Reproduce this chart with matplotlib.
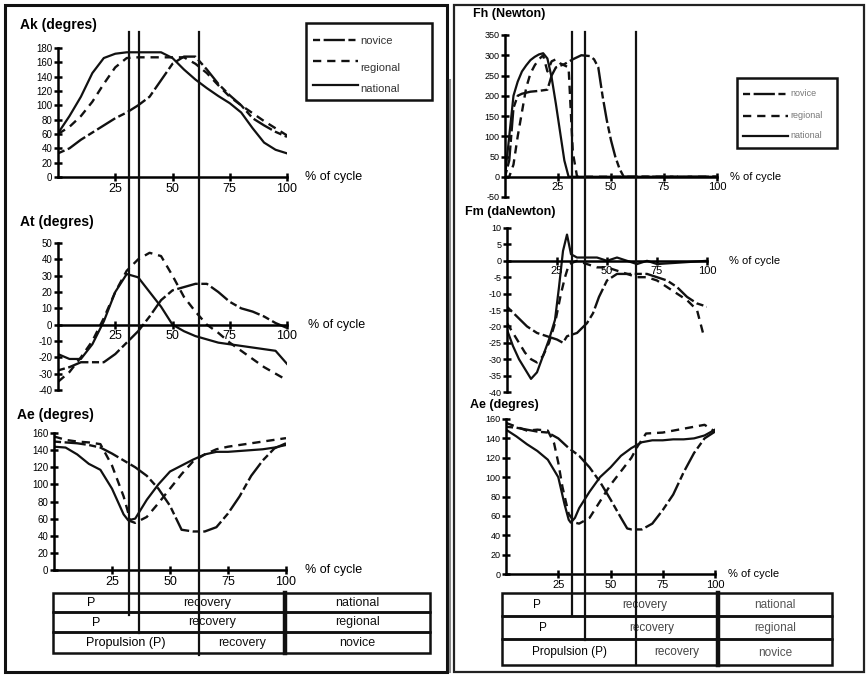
import matplotlib
matplotlib.use('Agg')
import matplotlib.pyplot as plt
from matplotlib.lines import Line2D
from matplotlib.patches import Rectangle
from matplotlib.transforms import blended_transform_factory

plt.rcParams['font.family'] = ['Liberation Sans', 'DejaVu Sans']
plt.rcParams['axes.unicode_minus'] = False

# ---------------- DATA ----------------
X5 = [0, 5, 10, 15, 20, 25, 30, 35, 40, 45, 50, 55, 60, 65, 70, 75, 80, 85, 90, 95, 100]

# Ak (degres) - left top
AK_NAT = [61, 85, 112, 145, 166, 172, 174, 174, 174, 174, 166, 150, 136, 124, 113, 103, 90, 68, 48, 38, 33]
AK_REG = [60, 70, 85, 105, 130, 153, 166, 167, 167, 167, 167, 167, 158, 145, 128, 112, 100, 89, 78, 68, 58]
AK_NOV = [33, 40, 52, 62, 72, 82, 90, 100, 112, 135, 158, 168, 168, 150, 130, 114, 100, 82, 72, 63, 56]

# At (degres) - left middle
AT_NAT = [-18, -21, -21, -12, 2, 20, 31, 29, 20, 11, 0, -4, -7, -9, -11, -12, -13, -14, -15, -16, -24]
AT_REG = [-35, -29, -20, -10, 4, 20, 33, 40, 44, 42, 30, 17, 8, 0, -5, -11, -16, -21, -26, -30, -34]
AT_NOV = [-28, -26, -23, -23, -23, -18, -11, -4, 5, 15, 21, 23, 25, 25, 20, 14, 10, 8, 5, 1, -2]

# Ae (degres) - left bottom
AEL_NAT_X = [0, 5, 10, 15, 20, 25, 30, 32, 35, 40, 45, 50, 55, 60, 65, 70, 75, 80, 85, 90, 95, 100]
AEL_NAT = [144, 143, 135, 124, 117, 95, 65, 58, 60, 82, 100, 115, 122, 129, 135, 138, 138, 139, 140, 141, 143, 146]
AEL_REG_X = [0, 5, 10, 15, 20, 25, 30, 33, 35, 40, 45, 50, 55, 60, 65, 70, 75, 80, 85, 90, 95, 100]
AEL_REG = [156, 152, 150, 149, 147, 122, 86, 57, 55, 62, 78, 95, 112, 127, 135, 141, 144, 146, 148, 150, 152, 154]
AEL_NOV = [150, 149, 148, 146, 143, 136, 128, 120, 110, 95, 75, 47, 45, 45, 50, 66, 86, 110, 128, 142, 148]

# Fh (Newton) - right top
FH_NAT_X = [0, 2, 4, 6, 8, 10, 12, 14, 16, 18, 20, 22, 24, 26, 28, 30, 100]
FH_NAT = [0, 100, 200, 235, 260, 275, 288, 296, 302, 305, 292, 245, 180, 110, 40, 0, 0]
FH_REG_X = [0, 2, 4, 6, 8, 10, 12, 14, 16, 18, 20, 22, 24, 26, 28, 30, 32, 34, 100]
FH_REG = [0, 0, 30, 100, 160, 220, 255, 275, 290, 300, 260, 285, 290, 280, 275, 270, 60, 0, 0]
FH_NOV_X = [0, 2, 4, 6, 8, 12, 16, 20, 22, 24, 28, 32, 36, 40, 42, 44, 46, 48, 50, 52, 54, 56, 100]
FH_NOV = [0, 40, 170, 200, 205, 210, 212, 215, 250, 270, 278, 290, 300, 298, 290, 270, 200, 140, 90, 50, 20, 0, 0]

# Fm (daNewton) - right middle
FM_NAT_X = [0, 3, 6, 9, 12, 15, 18, 21, 24, 26, 28, 30, 32, 35, 40, 45, 50, 55, 60, 65, 70, 75, 100]
FM_NAT = [-21, -26, -30, -33, -36, -34, -29, -24, -18, -8, 3, 8, 2, 1, 1, 1, 0, 1, 0, -1, 0, -1, 0]
FM_REG_X = [0, 3, 6, 9, 12, 15, 18, 21, 24, 27, 29, 31, 35, 40, 45, 50, 55, 60, 65, 70, 75, 80, 85, 90, 95, 98]
FM_REG = [-19, -22, -25, -28, -30, -31, -29, -25, -19, -10, -5, -1, 0, -1, -2, -2, -3, -4, -5, -5, -6, -8, -10, -12, -15, -22]
FM_NOV_X = [0, 5, 10, 15, 20, 25, 28, 30, 35, 40, 43, 46, 50, 55, 60, 65, 70, 75, 80, 85, 90, 95, 100]
FM_NOV = [-14, -17, -20, -22, -23, -24, -25, -23, -22, -19, -16, -11, -6, -4, -4, -4, -4, -5, -6, -8, -11, -13, -14]

# Ae (degres) - right bottom
AER_NAT_X = [0, 5, 10, 15, 20, 25, 28, 30, 31, 33, 35, 40, 45, 50, 55, 60, 65, 70, 75, 80, 85, 90, 95, 100]
AER_NAT = [149, 142, 134, 127, 118, 100, 72, 56, 53, 58, 68, 85, 100, 110, 122, 130, 136, 138, 138, 139, 139, 140, 143, 149]
AER_REG_X = [0, 5, 10, 15, 20, 23, 25, 27, 30, 33, 35, 40, 45, 50, 55, 60, 63, 67, 75, 80, 85, 90, 95, 100]
AER_REG = [156, 152, 148, 149, 148, 135, 115, 90, 62, 53, 52, 58, 75, 92, 106, 120, 132, 145, 146, 148, 150, 152, 154, 147]
AER_NOV_X = [0, 5, 10, 15, 20, 25, 30, 35, 40, 45, 50, 55, 58, 60, 65, 70, 75, 80, 85, 90, 95, 100]
AER_NOV = [152, 151, 149, 147, 146, 140, 130, 122, 110, 95, 77, 58, 47, 46, 46, 52, 66, 82, 105, 125, 140, 147]

# phase boundaries (% of cycle): national, regional, novice
PHASE_LEFT = [31, 35.5, 61.5]
PHASE_RIGHT = [31.5, 37.5, 62]

GROUPS = ['novice', 'regional', 'national']
PHASE_ROWS = ['national', 'regional', 'novice']
XTICKS = [25, 50, 75, 100]

# ---------------- FIGURE ----------------
W, H = 867, 676
fig = plt.figure(figsize=(W / 100, H / 100), dpi=100)
fig.patch.set_facecolor('white')

ov = fig.add_axes([0, 0, 1, 1])
ov.set_xlim(0, W)
ov.set_ylim(H, 0)
ov.axis('off')

STY = {
    'novice': dict(ls=(0, (3, 1.5, 9, 1.5)), color='#111111', lw=1.7),
    'regional': dict(ls=(0, (3.5, 2.5)), color='#111111', lw=1.7),
    'national': dict(ls='-', color='#111111', lw=1.6),
}


def axes_px(x0, x1, ytop, ybot):
    return fig.add_axes([x0 / W, 1 - ybot / H, (x1 - x0) / W, (ybot - ytop) / H])


def style(ax, ylim, yticks, xfs, yfs, label_x):
    ax.set_xlim(0, 100)
    ax.set_ylim(*ylim)
    ax.patch.set_alpha(0)
    for s in ['top', 'right']:
        ax.spines[s].set_visible(False)
    ax.spines['bottom'].set_position(('data', 0))
    ax.spines['left'].set_position(('data', 0))
    for s in ['bottom', 'left']:
        ax.spines[s].set_linewidth(1.8)
    ax.set_yticks(yticks)
    ax.set_yticklabels([str(t) for t in yticks], fontsize=yfs)
    ax.set_xticks(XTICKS)
    ax.set_xticklabels([str(t) for t in XTICKS], fontsize=xfs)
    ax.tick_params(axis='y', direction='inout', length=6, width=1.8, pad=1)
    ax.tick_params(axis='x', direction='inout', length=6, width=1.8, pad=1)
    tr = blended_transform_factory(ax.transAxes, ax.transData)
    ax.text(label_x, 0, '% of cycle', transform=tr, fontsize=xfs, va='center', ha='left')


def plot3(ax, data):
    for g in GROUPS:
        xs, ys = data[g]
        ax.plot(xs, ys, **STY[g])


# Left panel
ax_ak = axes_px(58, 287, 48, 177)
plot3(ax_ak, {'national': (X5, AK_NAT), 'regional': (X5, AK_REG), 'novice': (X5, AK_NOV)})
style(ax_ak, (0, 180), list(range(0, 181, 20)), 9, 7, 1.08)

ax_at = axes_px(58, 287, 243, 390)
plot3(ax_at, {'national': (X5, AT_NAT), 'regional': (X5, AT_REG), 'novice': (X5, AT_NOV)})
style(ax_at, (-40, 50), list(range(-40, 51, 10)), 9, 7, 1.09)

ax_ael = axes_px(54, 286, 433, 570)
plot3(ax_ael, {'national': (AEL_NAT_X, AEL_NAT), 'regional': (AEL_REG_X, AEL_REG), 'novice': (X5, AEL_NOV)})
style(ax_ael, (0, 160), list(range(0, 161, 20)), 9, 7, 1.08)

# Right panel
ax_fh = axes_px(505, 717, 35, 197)
plot3(ax_fh, {'national': (FH_NAT_X, FH_NAT), 'regional': (FH_REG_X, FH_REG), 'novice': (FH_NOV_X, FH_NOV)})
style(ax_fh, (-50, 350), list(range(-50, 351, 50)), 8, 6.5, 1.06)

ax_fm = axes_px(507, 707, 228, 392)
plot3(ax_fm, {'national': (FM_NAT_X, FM_NAT), 'regional': (FM_REG_X, FM_REG), 'novice': (FM_NOV_X, FM_NOV)})
style(ax_fm, (-40, 10), list(range(-40, 11, 5)), 8, 6.5, 1.11)

ax_aer = axes_px(506, 715, 419, 574)
plot3(ax_aer, {'national': (AER_NAT_X, AER_NAT), 'regional': (AER_REG_X, AER_REG), 'novice': (AER_NOV_X, AER_NOV)})
style(ax_aer, (0, 160), list(range(0, 161, 20)), 8, 6.5, 1.06)

# Titles
fig.text(20 / W, 1 - 25 / H, 'Ak (degres)', fontsize=10, fontweight='bold', va='center')
fig.text(20 / W, 1 - 222 / H, 'At (degres)', fontsize=10, fontweight='bold', va='center')
fig.text(17 / W, 1 - 415 / H, 'Ae (degres)', fontsize=10, fontweight='bold', va='center')
fig.text(473 / W, 1 - 14 / H, 'Fh (Newton)', fontsize=9, fontweight='bold', va='center')
fig.text(465 / W, 1 - 212 / H, 'Fm (daNewton)', fontsize=9, fontweight='bold', va='center')
fig.text(470 / W, 1 - 405 / H, 'Ae (degres)', fontsize=9, fontweight='bold', va='center')

# Panel borders
ov.add_patch(Rectangle((5, 5), 442, 667, fill=False, lw=2.2, ec='#111111'))
ov.add_patch(Rectangle((454, 5), 410, 667, fill=False, lw=1.6, ec='#222222'))
ov.plot([450, 450], [80, 672], color='#888888', lw=1.5)

# Legends
def legend(x0, y0, w, h, ys, tys, x_line0, x_line1, fs, tcolor):
    ov.add_patch(Rectangle((x0, y0), w, h, fill=False, lw=1.8, ec='#111111'))
    for g, y, ty in zip(GROUPS, ys, tys):
        ov.add_line(Line2D([x_line0, x_line1], [y, y], **STY[g]))
        ov.text(x_line1 + 2, ty, g, fontsize=fs, va='center', ha='left', color=tcolor)

legend(306, 23, 126, 77, [40, 61, 85], [41, 68, 89], 313, 358, 8, '#333333')
legend(737, 78, 100, 70, [94, 116, 136], [94, 116, 136], 743, 788, 6.5, '#777777')

# Phase lines spanning the three charts
def phase_lines(ax, phases, ytop, ybots):
    tr = blended_transform_factory(ax.transData, fig.transFigure)
    for p, yb in zip(phases, ybots):
        fig.add_artist(Line2D([p, p], [1 - ytop / H, 1 - yb / H], transform=tr, color='#111111', lw=1.6))

phase_lines(ax_ak, PHASE_LEFT, 32, [615, 633, 655])
phase_lines(ax_fh, PHASE_RIGHT, 32, [616, 640, 665])

# Phase tables
def phase_table(ax, phases, x0, xs, x1, rows_y, fs, tcol_right, tcol_rec):
    fig.canvas.draw()
    for i, g in enumerate(PHASE_ROWS):
        p = phases[i]
        px = ax.transData.transform((p, 0))[0]
        ya, yb = rows_y[i], rows_y[i + 1]
        ov.add_patch(Rectangle((x0, ya), xs - x0, yb - ya, fill=False, lw=1.8, ec='#111111'))
        ov.add_patch(Rectangle((xs, ya), x1 - xs, yb - ya, fill=False, lw=1.8, ec='#111111'))
        ym = (ya + yb) / 2 + 0.5
        ptxt = 'Propulsion (P)' if g == 'novice' else 'P'
        ov.text((x0 + px) / 2, ym, ptxt, fontsize=fs, ha='center', va='center')
        ov.text((px + xs) / 2, ym, 'recovery', fontsize=fs, ha='center', va='center', color=tcol_rec)
        ov.text((xs + x1) / 2, ym, g, fontsize=fs, ha='center', va='center', color=tcol_right)
    ov.plot([xs, xs], [rows_y[0], rows_y[-1]], color='#111111', lw=3.2)

phase_table(ax_ak, PHASE_LEFT, 53, 285, 430, [593, 612, 632, 653], 9, '#111111', '#111111')
phase_table(ax_fh, PHASE_RIGHT, 502, 718, 832, [593, 616, 639, 665], 8.5, '#555555', '#444444')

fig.savefig('out.png', dpi=100)
